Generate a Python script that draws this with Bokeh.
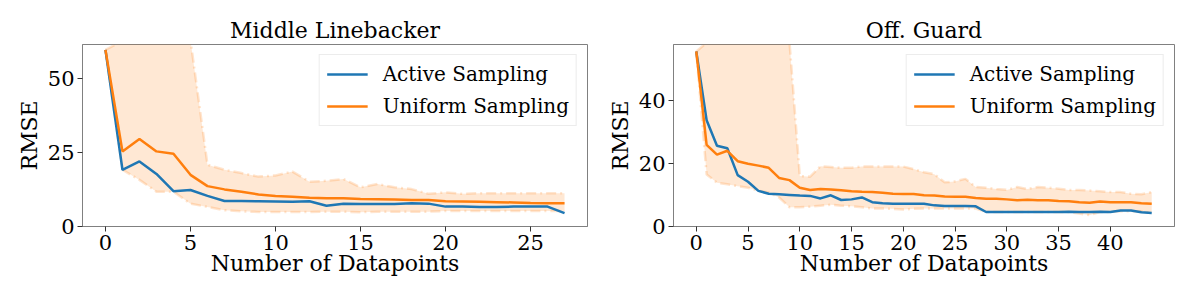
from bokeh.plotting import figure
from bokeh.models import Range1d, FixedTicker, Legend, LegendItem
from bokeh.layouts import row
from bokeh.embed import file_html
from bokeh.resources import INLINE

# ---------------- data ----------------
titles = ["Middle Linebacker", "Off. Guard"]
x_label = "Number of Datapoints"
y_label = "RMSE"
series_names = ["Active Sampling", "Uniform Sampling"]

x_left = list(range(28))
active_left = [59.5, 19.1, 21.9, 17.7, 11.9, 12.3, 10.3, 8.6, 8.6, 8.5, 8.4, 8.3, 8.5, 7.0,
               7.7, 7.6, 7.6, 7.6, 7.8, 7.7, 6.7, 6.7, 6.6, 6.6, 6.7, 6.7, 6.7, 4.5]
uniform_left = [59.5, 25.3, 29.5, 25.3, 24.5, 17.4, 13.6, 12.5, 11.7, 10.8, 10.3, 10.0, 9.7, 9.5,
                9.5, 9.3, 9.2, 9.1, 8.9, 8.9, 8.5, 8.4, 8.3, 8.2, 8.1, 7.9, 7.8, 7.8]
upper_left = [59.5, 62.5, 62.8, 63.0, 63.0, 62.8, 20.8, 19.1, 18.0, 16.8, 17.2, 18.5, 15.1, 15.4,
              16.0, 13.2, 14.3, 13.2, 12.6, 11.0, 11.5, 11.0, 11.2, 11.2, 11.2, 11.2, 11.2, 11.2]
lower_left = [59.5, 19.1, 15.7, 11.7, 11.7, 7.7, 6.6, 5.5, 5.1, 4.9, 4.9, 4.9, 4.9, 5.0,
              5.0, 4.8, 5.0, 5.0, 5.0, 5.0, 5.2, 5.2, 5.2, 5.2, 5.2, 5.2, 5.2, 5.2]

x_right = list(range(45))
active_right = [55.5, 33.7, 25.6, 24.8, 16.3, 14.2, 11.3, 10.4, 10.2, 10.0, 9.8, 9.7, 8.9, 9.9,
                8.4, 8.6, 9.2, 7.7, 7.4, 7.2, 7.2, 7.2, 7.2, 6.7, 6.5, 6.5, 6.5, 6.4, 4.6, 4.6,
                4.6, 4.6, 4.6, 4.6, 4.6, 4.6, 4.7, 4.6, 4.6, 4.7, 4.6, 5.1, 5.1, 4.5, 4.3]
uniform_right = [55.5, 25.9, 22.8, 24.0, 20.7, 19.9, 19.3, 18.6, 15.4, 14.7, 12.3, 11.6, 11.9, 11.7,
                 11.5, 11.2, 11.0, 10.9, 10.7, 10.4, 10.3, 10.3, 9.9, 9.8, 9.5, 9.4, 9.4, 9.0, 8.8, 8.8,
                 8.6, 8.3, 8.5, 8.3, 8.3, 8.1, 8.0, 7.7, 7.5, 7.9, 7.7, 7.7, 7.7, 7.4, 7.2]
upper_right = [55.5, 58.3, 58.5, 58.6, 58.6, 58.7, 58.7, 58.8, 58.8, 58.8, 16.0, 15.8, 19.1, 18.9,
               18.6, 18.6, 19.0, 19.0, 19.0, 19.0, 19.0, 18.2, 17.2, 16.6, 14.0, 14.3, 15.1, 12.5, 12.3, 11.9,
               11.6, 12.5, 11.9, 12.5, 12.3, 12.0, 11.6, 11.6, 11.4, 11.2, 10.9, 10.9, 10.4, 10.2, 10.9]
lower_right = [55.5, 16.5, 13.9, 13.4, 12.8, 12.3, 11.3, 10.8, 9.2, 6.1, 6.1, 6.3, 6.6, 6.9,
               6.6, 6.4, 6.1, 5.7, 5.7, 5.6, 5.4, 5.6, 5.7, 5.7, 5.7, 5.7, 5.7, 5.7, 4.6, 4.6,
               4.6, 4.6, 4.6, 4.6, 4.6, 4.6, 4.6, 4.1, 3.6, 4.6, 4.6, 4.8, 4.8, 4.8, 4.3]

yticks_left = [0, 25, 50]
yticks_right = [0, 20, 40]
xticks_left = [0, 5, 10, 15, 20, 25]
xticks_right = [0, 5, 10, 15, 20, 25, 30, 35, 40]

# ---------------- style ----------------
FONT = "DejaVu Serif"
BLUE = "#1f77b4"
ORANGE = "#ff7f0e"
FRAME = "#808080"
H = 299


def make(title, xs, active, uniform, upper, lower, xr, yr, xticks, yticks,
         width, bl, br):
    p = figure(width=width, height=H, output_backend="svg", toolbar_location=None,
               x_range=Range1d(*xr), y_range=Range1d(*yr),
               min_border_left=bl, min_border_right=br,
               min_border_top=44, min_border_bottom=73, title=title)
    p.title.text_font = FONT
    p.title.text_font_size = "22px"
    p.title.text_font_style = "normal"
    p.title.text_color = "black"
    p.title.align = "center"
    p.title.standoff = 3
    p.grid.visible = False
    p.outline_line_color = FRAME
    p.outline_line_width = 1
    p.background_fill_color = "white"
    p.border_fill_color = "white"

    p.varea(x=xs, y1=lower, y2=upper, fill_color=ORANGE, fill_alpha=0.18)
    p.line(xs, upper, line_color=ORANGE, line_alpha=0.2, line_width=2.5,
           line_dash="10 4 2 4")
    p.line(xs, lower, line_color=ORANGE, line_alpha=0.2, line_width=2.5,
           line_dash="10 4 2 4")
    r1 = p.line(xs, active, line_color=BLUE, line_width=2.5)
    r2 = p.line(xs, uniform, line_color=ORANGE, line_width=2.5)

    leg = Legend(items=[LegendItem(label=series_names[0], renderers=[r1]),
                        LegendItem(label=series_names[1], renderers=[r2])],
                 location="top_right")
    leg.label_text_font = FONT
    leg.label_text_font_size = "20px"
    leg.label_text_color = "black"
    leg.glyph_width = 41
    leg.glyph_height = 22
    leg.label_height = 22
    leg.label_standoff = 15
    leg.padding = 7
    leg.spacing = 8
    leg.margin = 10
    leg.border_line_color = "#d9d9d9"
    leg.border_line_width = 1
    leg.background_fill_alpha = 0.8
    p.add_layout(leg, "center")

    for ax in (p.xaxis[0], p.yaxis[0]):
        ax.axis_line_color = FRAME
        ax.major_tick_line_color = "#333333"
        ax.minor_tick_line_color = None
        ax.major_tick_in = 0
        ax.major_tick_out = 5
        ax.major_label_text_font = FONT
        ax.major_label_text_font_size = "21px"
        ax.major_label_text_color = "black"
        ax.axis_label_text_font = FONT
        ax.axis_label_text_font_size = "22px"
        ax.axis_label_text_font_style = "normal"
        ax.axis_label_text_color = "black"
        ax.major_label_standoff = 3
    p.xaxis[0].axis_label_standoff = -2
    p.yaxis[0].axis_label_standoff = 3
    p.xaxis[0].ticker = FixedTicker(ticks=xticks)
    p.yaxis[0].ticker = FixedTicker(ticks=yticks)
    p.xaxis[0].axis_label = x_label
    p.yaxis[0].axis_label = y_label
    return p


p1 = make(titles[0], x_left, active_left, uniform_left, upper_left, lower_left,
          (-1.35, 28.35), (0, 61.3), xticks_left, yticks_left, 604, 82, 17)
p2 = make(titles[1], x_right, active_right, uniform_right, upper_right, lower_right,
          (-2.2, 46.2), (0, 57.7), xticks_right, yticks_right, 592, 66, 22)

layout = row(p1, p2)
open("out.html", "w").write(file_html(layout, INLINE))
